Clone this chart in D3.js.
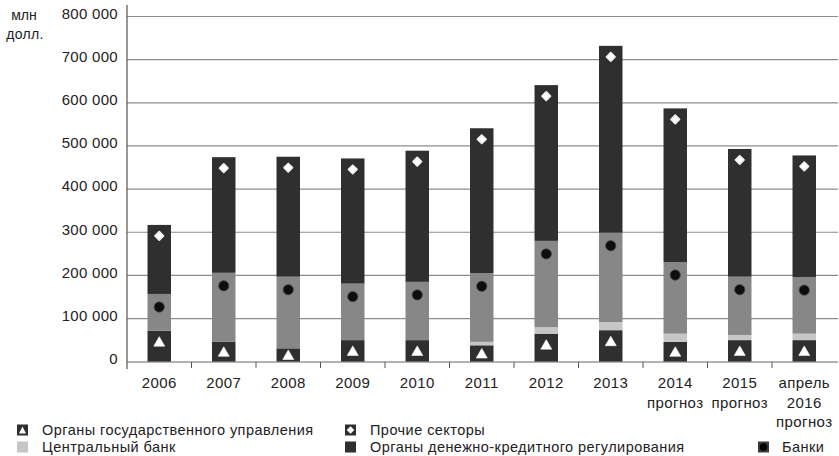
<!DOCTYPE html>
<html><head><meta charset="utf-8">
<script src="https://cdn.jsdelivr.net/npm/d3@7"></script>
<style>
html,body{margin:0;padding:0;background:#fff;}
svg{display:block;font-family:"Liberation Sans",Arial,sans-serif;}
</style></head>
<body><svg id="c" width="839" height="456"></svg>
<script>
const categories = ["2006","2007","2008","2009","2010","2011","2012","2013","2014","2015","2016"];
const xLabels = [["2006"],["2007"],["2008"],["2009"],["2010"],["2011"],["2012"],["2013"],["2014","прогноз"],["2015","прогноз"],["апрель","2016","прогноз"]];
const govValues    = [72000, 46000, 31000, 50000, 50000, 38000, 65000, 73000, 46000, 50000, 50000];
const cbValues     = [0, 0, 0, 0, 0, 8000, 15000, 19000, 19000, 12000, 15000];
const bankValues   = [85000, 160000, 166000, 131000, 135000, 159000, 200000, 207000, 166000, 135000, 131000];
const otherValues  = [160000, 268000, 278000, 290000, 304000, 336000, 361000, 433000, 356000, 296000, 282000];
const yTicks = [0, 100000, 200000, 300000, 400000, 500000, 600000, 700000, 800000];
const legendItems = [
  {label:"Органы государственного управления", icon:"tri"},
  {label:"Центральный банк", icon:"cb"},
  {label:"Прочие секторы", icon:"dia"},
  {label:"Органы денежно-кредитного регулирования", icon:"mon"},
  {label:"Банки", icon:"dot"}
];

const DARK = "#2f2f2f", GRAY = "#878787", LIGHT = "#c6c6c6", TEXT = "#222";
const svg = d3.select("#c");
const x = d3.scaleBand().domain(categories).range([127, 836.5]).paddingInner(0.636).paddingOuter(0.318);
const y = d3.scaleLinear().domain([0, 800000]).range([361.7, 16.5]);
const fmt = v => d3.format(",")(v).replace(/,/g, " ");

// gridlines
svg.append("g").selectAll("line").data(yTicks.filter(d => d > 0)).join("line")
  .attr("x1", 127).attr("x2", 838).attr("y1", d => y(d)).attr("y2", d => y(d))
  .attr("stroke", "#8c8c8c").attr("stroke-width", 1.2);

// y tick labels
svg.append("g").selectAll("text").data(yTicks).join("text")
  .attr("x", 118).attr("y", d => y(d) - 3).attr("dy", "0.35em")
  .attr("text-anchor", "end").attr("font-size", 15).attr("letter-spacing", 0.3).attr("fill", TEXT)
  .text(d => fmt(d));

svg.append("text").attr("x", 24).attr("y", 15).attr("dy", "0.35em").attr("text-anchor", "middle")
  .attr("font-size", 14).attr("fill", TEXT).text("млн");
svg.append("text").attr("x", 25).attr("y", 34).attr("dy", "0.35em").attr("text-anchor", "middle")
  .attr("font-size", 14).attr("letter-spacing", 0.3).attr("fill", TEXT).text("долл.");

// stacked data
const rows = categories.map((c, i) => ({cat: c, gov: govValues[i], cb: cbValues[i], bank: bankValues[i], other: otherValues[i]}));
const keys = ["gov", "cb", "bank", "other"];
const colors = {gov: DARK, cb: LIGHT, bank: GRAY, other: DARK};
const stack = d3.stack().keys(keys)(rows);

const gBars = svg.append("g");
stack.forEach(layer => {
  gBars.append("g").selectAll("rect").data(layer).join("rect")
    .attr("x", d => x(d.data.cat)).attr("width", x.bandwidth())
    .attr("y", d => y(d[1])).attr("height", d => Math.max(0, y(d[0]) - y(d[1])))
    .attr("fill", colors[layer.key]);
});

// markers
const markerY = (d, off) => { const t = y(d[1]), h = y(d[0]) - y(d[1]); return t + Math.min(off, h / 2); };
const govLayer = stack[0], bankLayer = stack[2], otherLayer = stack[3];
svg.append("g").selectAll("path").data(govLayer).join("path")
  .attr("transform", d => `translate(${x(d.data.cat) + x.bandwidth() / 2},${markerY(d, 11)})`)
  .attr("d", "M0,-5 L5.5,4.5 L-5.5,4.5 Z").attr("fill", "#fff").attr("stroke", "#fff")
  .attr("stroke-width", 0.6).attr("stroke-linejoin", "round");
svg.append("g").selectAll("circle").data(bankLayer).join("circle")
  .attr("cx", d => x(d.data.cat) + x.bandwidth() / 2).attr("cy", d => markerY(d, 13))
  .attr("r", 5.2).attr("fill", "#0e0e0e").attr("stroke", "#505050").attr("stroke-width", 0.8);
svg.append("g").selectAll("path").data(otherLayer).join("path")
  .attr("transform", d => `translate(${x(d.data.cat) + x.bandwidth() / 2},${markerY(d, 11)})`)
  .attr("d", "M0,-4.2 L4.2,0 L0,4.2 L-4.2,0 Z")
  .attr("fill", "#fff").attr("stroke", "#f2f2f2").attr("stroke-width", 1.8)
  .attr("stroke-linejoin", "round");

// axes lines
svg.append("line").attr("x1", 127).attr("x2", 127).attr("y1", 5).attr("y2", 369)
  .attr("stroke", "#555").attr("stroke-width", 1.2);
svg.append("line").attr("x1", 127).attr("x2", 838).attr("y1", 362).attr("y2", 362)
  .attr("stroke", "#666").attr("stroke-width", 1.2);
const boundaries = categories.slice(1).map(c => x(c) - x.step() * x.paddingInner() / 2);
svg.append("g").selectAll("line").data(boundaries).join("line")
  .attr("x1", d => d).attr("x2", d => d).attr("y1", 362).attr("y2", 368)
  .attr("stroke", "#555").attr("stroke-width", 1);

// x labels
const gx = svg.append("g");
categories.forEach((c, i) => {
  const t = gx.append("text").attr("text-anchor", "middle").attr("font-size", 15)
    .attr("letter-spacing", 0.4).attr("fill", TEXT);
  xLabels[i].forEach((line, j) => {
    t.append("tspan").attr("x", x(c) + x.bandwidth() / 2).attr("y", 383 + j * 19.5).attr("dy", "0.35em").text(line);
  });
});

// legend
const legPos = [[17, 430], [17, 447], [345, 430], [345, 447], [758, 447]];
const gl = svg.append("g");
legendItems.forEach((it, i) => {
  const [lx, ly] = legPos[i];
  const g = gl.append("g").attr("transform", `translate(${lx},${ly})`);
  const fill = it.icon === "cb" ? LIGHT : (it.icon === "dot" ? "#3a3a3a" : DARK);
  g.append("rect").attr("x", 0).attr("y", -5.5).attr("width", 11).attr("height", 11).attr("fill", fill);
  if (it.icon === "tri") g.append("path").attr("d", "M5.5,-3.5 L9,3.5 L2,3.5 Z").attr("fill", "#fff");
  if (it.icon === "dia") g.append("path").attr("d", "M5.5,-3.8 L9.3,0 L5.5,3.8 L1.7,0 Z").attr("fill", "#fff");
  if (it.icon === "dot") g.append("circle").attr("cx", 5.5).attr("cy", 0).attr("r", 3.8).attr("fill", "#000");
  g.append("text").attr("x", i === 4 ? 24 : 25).attr("y", 0).attr("dy", "0.35em")
    .attr("font-size", 14.5).attr("letter-spacing", 0.45).attr("fill", TEXT).text(it.label);
});
</script></body></html>
